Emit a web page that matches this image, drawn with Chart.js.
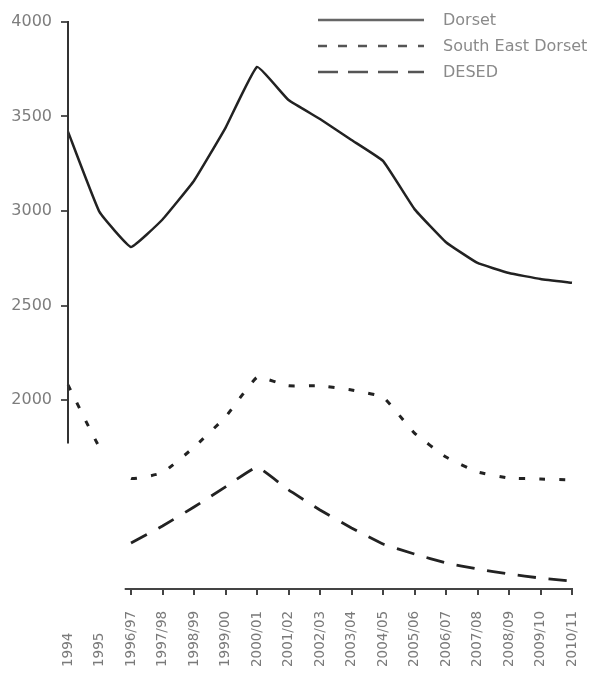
<!DOCTYPE html>
<html>
<head>
<meta charset="utf-8">
<script src="https://cdn.jsdelivr.net/npm/chart.js@4.4.1/dist/chart.umd.min.js"></script>
<style>
  html, body { margin: 0; padding: 0; background: #ffffff; }
  #wrap { width: 596px; height: 674px; }
</style>
</head>
<body>
<div id="wrap"><canvas id="c" width="596" height="674"></canvas></div>
<script>
// ---- data ----
const categories = ['1994','1995','1996/97','1997/98','1998/99','1999/00','2000/01','2001/02','2002/03','2003/04','2004/05','2005/06','2006/07','2007/08','2008/09','2009/10','2010/11'];
const dorset    = [3420, 2995, 2810, 2955, 3160, 3440, 3762, 3587, 3487, 3376, 3265, 3010, 2835, 2725, 2672, 2640, 2620];
const seDorset  = [2080, 1750, 1585, 1615, 1750, 1910, 2120, 2075, 2075, 2053, 2016, 1825, 1698, 1619, 1587, 1582, 1577];
const desed     = [null, null, 1243, 1333, 1434, 1540, 1645, 1524, 1418, 1323, 1238, 1185, 1138, 1106, 1079, 1058, 1042];
const seriesNames = ['Dorset', 'South East Dorset', 'DESED'];
const yMin = 1000, yMax = 4000, yStep = 500;
const yLabelFrom = 2000;          // lowest labelled y tick
const yAxisLineEnd = 1770;        // y value where the (cut) y axis line ends
const xAxisLineStart = 1.8;       // category position where the (cut) x axis line starts
const xTickFrom = 2;              // first category with a tick mark
const hiddenSegSE = [1];          // segment (1995 -> 1996/97) lost in the scan

const FONT = '"DejaVu Sans", "Liberation Sans", sans-serif';
const legendDashes = [[], [9, 11], [20, 10]];

const axisPlugin = {
  id: 'customAxes',
  afterDraw(chart) {
    const ctx = chart.ctx;
    const xs = chart.scales.x, ys = chart.scales.y;
    ctx.save();
    // y axis line (partial)
    ctx.strokeStyle = '#333';
    ctx.lineWidth = 2;
    ctx.beginPath();
    ctx.moveTo(xs.getPixelForValue(0), ys.getPixelForValue(yMax) - 1);
    ctx.lineTo(xs.getPixelForValue(0), ys.getPixelForValue(yAxisLineEnd));
    ctx.stroke();
    // x axis line (partial)
    const x0 = xs.getPixelForValue(0), x1 = xs.getPixelForValue(1);
    const xStart = x0 + (x1 - x0) * xAxisLineStart;
    ctx.strokeStyle = '#444';
    ctx.beginPath();
    ctx.moveTo(xStart, ys.getPixelForValue(yMin));
    ctx.lineTo(xs.getPixelForValue(categories.length - 1) + 1, ys.getPixelForValue(yMin));
    ctx.stroke();
    // x labels (bottom aligned, rotated)
    ctx.fillStyle = '#7a7a7a';
    ctx.font = '13.5px ' + FONT;
    ctx.textAlign = 'left';
    ctx.textBaseline = 'middle';
    categories.forEach((lab, i) => {
      const x = xs.getPixelForValue(i);
      ctx.save();
      ctx.translate(x, 667);
      ctx.rotate(-Math.PI / 2);
      ctx.fillText(lab, 0, 0);
      ctx.restore();
    });
    // legend
    const ly = [20, 46, 72];
    chart.data.datasets.forEach((ds, i) => {
      ctx.save();
      ctx.strokeStyle = i === 0 ? '#666' : '#555';
      ctx.lineWidth = 2.5;
      ctx.setLineDash(legendDashes[i]);
      ctx.beginPath();
      ctx.moveTo(318, ly[i]);
      ctx.lineTo(424, ly[i]);
      ctx.stroke();
      ctx.restore();
      ctx.fillStyle = '#8a8a8a';
      ctx.font = '16px ' + FONT;
      ctx.textAlign = 'left';
      ctx.textBaseline = 'middle';
      ctx.fillText(ds.label, 443, ly[i] + 1);
    });
    ctx.restore();
  }
};

new Chart(document.getElementById('c'), {
  type: 'line',
  data: {
    labels: categories,
    datasets: [
      { label: seriesNames[0], data: dorset, borderColor: '#222', borderWidth: 2.5, pointRadius: 0, tension: 0.1 },
      { label: seriesNames[1], data: seDorset, borderColor: '#222', borderWidth: 3, borderDash: [6, 14], pointRadius: 0, tension: 0.1,
        segment: { borderColor: c => hiddenSegSE.includes(c.p0DataIndex) ? 'rgba(0,0,0,0)' : undefined } },
      { label: seriesNames[2], data: desed, borderColor: '#222', borderWidth: 2.8, borderDash: [18, 13], pointRadius: 0, tension: 0.1 }
    ]
  },
  options: {
    responsive: false,
    animation: false,
    layout: { padding: { top: 22, right: 24, left: 0, bottom: 0 } },
    plugins: { legend: { display: false }, tooltip: { enabled: false } },
    scales: {
      x: {
        offset: false,
        border: { display: false },
        grid: { drawOnChartArea: false, drawTicks: true, tickLength: 6, lineWidth: 2,
                color: c => (c.index >= xTickFrom ? '#444' : 'rgba(0,0,0,0)') },
        ticks: { display: false },
        afterFit(s) { s.height = 85; }
      },
      y: {
        min: yMin, max: yMax,
        border: { display: false },
        grid: { drawOnChartArea: false, drawTicks: true, tickLength: 7, lineWidth: 2,
                color: c => (c.tick && c.tick.value >= yLabelFrom ? '#555' : 'rgba(0,0,0,0)') },
        ticks: { stepSize: yStep, padding: 9, color: '#7d7d7d', font: { family: FONT, size: 16 },
                 callback: v => (v >= yLabelFrom ? String(v) : '') },
        afterFit(s) { s.width = 68; }
      }
    }
  },
  plugins: [axisPlugin]
});
</script>
</body>
</html>
